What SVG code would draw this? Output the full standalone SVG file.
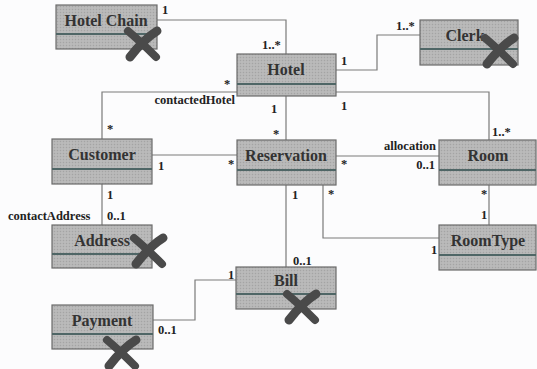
<svg xmlns="http://www.w3.org/2000/svg" width="537" height="369" viewBox="0 0 537 369">
<defs>
<pattern id="dots" width="3" height="3" patternUnits="userSpaceOnUse">
<rect width="3" height="3" fill="#b6b6b6"/>
<rect x="0" y="0" width="1" height="1" fill="#a4a4a4"/>
<rect x="1.5" y="1.5" width="1" height="1" fill="#c6c6c6"/>
</pattern>
<g id="xmark">
<path d="M-14,-12 Q-2,-2 14,14" fill="none" stroke="#4a4a4a" stroke-width="8" stroke-linecap="round"/>
<path d="M15,-12 Q2,-4 -12,14" fill="none" stroke="#4a4a4a" stroke-width="9" stroke-linecap="round"/>
</g>
</defs>
<style>
.box{fill:url(#dots);stroke:#6a6a6a;stroke-width:1.2}
.div{stroke:#4f6666;stroke-width:2}
.name{font-family:"Liberation Serif","DejaVu Serif",serif;font-weight:bold;font-size:16px;fill:#333;text-anchor:middle}
.lbl{font-family:"Liberation Serif","DejaVu Serif",serif;font-weight:bold;font-size:12.5px;fill:#222}
.ln{fill:none;stroke:#7a7a7a;stroke-width:1.2}
</style>
<rect width="537" height="369" fill="#fcfcfd"/>
<g id="connectors">
<polyline class="ln" points="157,20 286,20 286,54"/>
<polyline class="ln" points="336,70 377,70 377,35 420,35"/>
<polyline class="ln" points="336,92 489,92 489,140"/>
<line class="ln" x1="286" y1="96" x2="286" y2="140"/>
<polyline class="ln" points="237,92 102,92 102,139"/>
<line class="ln" x1="152" y1="155" x2="237" y2="155"/>
<line class="ln" x1="336" y1="156" x2="439" y2="156"/>
<polyline class="ln" points="323,185 323,238 439,238"/>
<line class="ln" x1="489" y1="185" x2="489" y2="225"/>
<line class="ln" x1="286" y1="185" x2="286" y2="267"/>
<polyline class="ln" points="236,280 195,280 195,320 153,320"/>
<line class="ln" x1="102" y1="184" x2="102" y2="225"/>
</g>
<g id="labels" class="lbl">
<text x="162" y="14">1</text>
<text x="262" y="49">1..*</text>
<text x="341" y="65">1</text>
<text x="396" y="30">1..*</text>
<text x="341" y="110">1</text>
<text x="492" y="136">1..*</text>
<text x="271" y="113">1</text>
<text x="273" y="138">*</text>
<text x="224" y="88">*</text>
<text x="235" y="104" text-anchor="end">contactedHotel</text>
<text x="107" y="133">*</text>
<text x="158" y="170">1</text>
<text x="228" y="168">*</text>
<text x="436" y="150" text-anchor="end">allocation</text>
<text x="341" y="168">*</text>
<text x="435" y="169" text-anchor="end">0..1</text>
<text x="328" y="198">*</text>
<text x="431" y="254">1</text>
<text x="481" y="198">*</text>
<text x="481" y="219">1</text>
<text x="292" y="199">1</text>
<text x="293" y="265">0..1</text>
<text x="228" y="279">1</text>
<text x="158" y="334">0..1</text>
<text x="107" y="199">1</text>
<text x="107" y="220">0..1</text>
<text x="8" y="220">contactAddress</text>
</g>
<g id="hotelchain">
<rect class="box" x="56" y="5" width="101" height="44"/>
<line class="div" x1="56" y1="34" x2="157" y2="34"/>
<text class="name" x="106" y="26">Hotel Chain</text>
<use href="#xmark" x="142" y="43"/>
</g>
<g id="hotel">
<rect class="box" x="237" y="54" width="99" height="42"/>
<line class="div" x1="237" y1="84" x2="336" y2="84"/>
<text class="name" x="286" y="75">Hotel</text>
</g>
<g id="clerk">
<rect class="box" x="420" y="20" width="98" height="45"/>
<line class="div" x1="420" y1="49" x2="518" y2="49"/>
<text class="name" x="465" y="41">Clerk</text>
<use href="#xmark" x="499" y="50"/>
</g>
<g id="customer">
<rect class="box" x="52" y="139" width="100" height="45"/>
<line class="div" x1="52" y1="169" x2="152" y2="169"/>
<text class="name" x="102" y="160">Customer</text>
</g>
<g id="reservation">
<rect class="box" x="237" y="140" width="99" height="45"/>
<line class="div" x1="237" y1="170" x2="336" y2="170"/>
<text class="name" x="286" y="161">Reservation</text>
</g>
<g id="room">
<rect class="box" x="439" y="140" width="97" height="45"/>
<line class="div" x1="439" y1="170" x2="536" y2="170"/>
<text class="name" x="488" y="161">Room</text>
</g>
<g id="roomtype">
<rect class="box" x="439" y="225" width="97" height="45"/>
<line class="div" x1="439" y1="255" x2="536" y2="255"/>
<text class="name" x="488" y="246">RoomType</text>
</g>
<g id="address">
<rect class="box" x="52" y="225" width="100" height="43"/>
<line class="div" x1="52" y1="254" x2="152" y2="254"/>
<text class="name" x="102" y="246">Address</text>
<use href="#xmark" x="148" y="250"/>
</g>
<g id="bill">
<rect class="box" x="236" y="267" width="100" height="42"/>
<line class="div" x1="236" y1="294" x2="336" y2="294"/>
<text class="name" x="286" y="286">Bill</text>
<use href="#xmark" x="301" y="306"/>
</g>
<g id="payment">
<rect class="box" x="52" y="305" width="101" height="44"/>
<line class="div" x1="52" y1="334" x2="153" y2="334"/>
<text class="name" x="102" y="326">Payment</text>
<use href="#xmark" x="121" y="352"/>
</g>
</svg>
